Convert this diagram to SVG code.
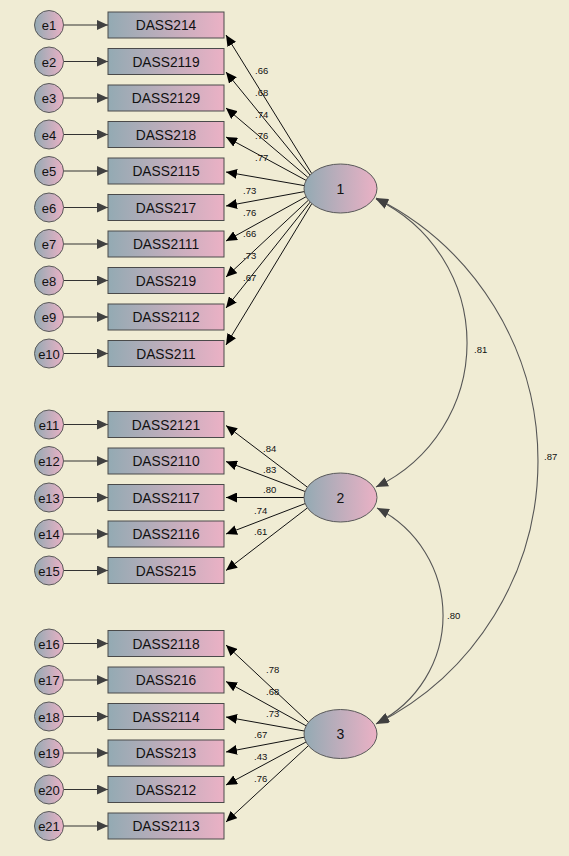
<svg xmlns="http://www.w3.org/2000/svg" width="569" height="856" viewBox="0 0 569 856">
<defs>
<linearGradient id="gr" x1="0" y1="0" x2="1" y2="0">
<stop offset="0" stop-color="#93aab3"/>
<stop offset="1" stop-color="#ebb1c5"/>
</linearGradient>
<marker id="ah" markerWidth="11" markerHeight="10" refX="11" refY="5" orient="auto" markerUnits="userSpaceOnUse"><path d="M0,0 L11,5 L0,10 z" fill="#000"/></marker>
<marker id="ahg" markerWidth="11" markerHeight="10" refX="11" refY="5" orient="auto" markerUnits="userSpaceOnUse"><path d="M0,0 L11,5 L0,10 z" fill="#404040"/></marker>
<marker id="ahc" markerWidth="12" markerHeight="10" refX="12" refY="5" orient="auto-start-reverse" markerUnits="userSpaceOnUse"><path d="M0,0 L12,5 L0,10 z" fill="#404040"/></marker>
</defs>
<style>
.bg{fill:#f0ecd4}
.obs rect{fill:url(#gr);stroke:#4a4a4a;stroke-width:1}
.err circle{fill:url(#gr);stroke:#5a5a5a;stroke-width:1}
.lat ellipse{fill:url(#gr);stroke:#5a5a5a;stroke-width:1}
text{font-family:"Liberation Sans",Arial,sans-serif;fill:#111}
.nt{font-size:13.8px;text-anchor:middle}
.et{font-size:13px;text-anchor:middle}
.lt{font-size:14px;text-anchor:middle}
.lab{font-size:9.5px}
.ea{stroke:#333;stroke-width:1;fill:none;marker-end:url(#ahg)}
.la{stroke:#111;stroke-width:1;fill:none;marker-end:url(#ah)}
.cv{stroke:#555;stroke-width:1.1;fill:none;marker-start:url(#ahc);marker-end:url(#ahc)}
</style>
<rect class="bg" x="0" y="0" width="569" height="856"/>

<g id="connectors">
<!-- error arrows -->
<line class="ea" x1="63.5" y1="25" x2="108" y2="25"/>
<line class="ea" x1="63.5" y1="61.5" x2="108" y2="61.5"/>
<line class="ea" x1="63.5" y1="98" x2="108" y2="98"/>
<line class="ea" x1="63.5" y1="134.5" x2="108" y2="134.5"/>
<line class="ea" x1="63.5" y1="171" x2="108" y2="171"/>
<line class="ea" x1="63.5" y1="207.5" x2="108" y2="207.5"/>
<line class="ea" x1="63.5" y1="244" x2="108" y2="244"/>
<line class="ea" x1="63.5" y1="280.5" x2="108" y2="280.5"/>
<line class="ea" x1="63.5" y1="317" x2="108" y2="317"/>
<line class="ea" x1="63.5" y1="353.5" x2="108" y2="353.5"/>
<line class="ea" x1="63.5" y1="424.5" x2="108" y2="424.5"/>
<line class="ea" x1="63.5" y1="461" x2="108" y2="461"/>
<line class="ea" x1="63.5" y1="497.5" x2="108" y2="497.5"/>
<line class="ea" x1="63.5" y1="534" x2="108" y2="534"/>
<line class="ea" x1="63.5" y1="570.5" x2="108" y2="570.5"/>
<line class="ea" x1="63.5" y1="643.5" x2="108" y2="643.5"/>
<line class="ea" x1="63.5" y1="680" x2="108" y2="680"/>
<line class="ea" x1="63.5" y1="716.5" x2="108" y2="716.5"/>
<line class="ea" x1="63.5" y1="753" x2="108" y2="753"/>
<line class="ea" x1="63.5" y1="789.5" x2="108" y2="789.5"/>
<line class="ea" x1="63.5" y1="826" x2="108" y2="826"/>
<!-- factor 1 loadings -->
<line class="la" x1="311.7" y1="173.5" x2="226" y2="35"/>
<line class="la" x1="310.0" y1="175.0" x2="226" y2="72"/>
<line class="la" x1="307.9" y1="177.4" x2="226" y2="108"/>
<line class="la" x1="306.1" y1="180.4" x2="226" y2="137"/>
<line class="la" x1="304.3" y1="185.6" x2="226" y2="172"/>
<line class="la" x1="304.3" y1="191.6" x2="226" y2="206"/>
<line class="la" x1="306.1" y1="196.7" x2="226" y2="241"/>
<line class="la" x1="308.4" y1="200.2" x2="226" y2="277"/>
<line class="la" x1="310.2" y1="202.1" x2="226" y2="308"/>
<line class="la" x1="311.8" y1="203.6" x2="226" y2="345"/>
<!-- factor 2 loadings -->
<line class="la" x1="307.4" y1="487.2" x2="226" y2="425.5"/>
<line class="la" x1="305.1" y1="491.5" x2="226" y2="461.5"/>
<line class="la" x1="304.0" y1="497.5" x2="226" y2="497.5"/>
<line class="la" x1="305.1" y1="503.6" x2="226" y2="534"/>
<line class="la" x1="307.4" y1="507.9" x2="226" y2="570.5"/>
<!-- factor 3 loadings -->
<line class="la" x1="308.5" y1="722.3" x2="226" y2="645"/>
<line class="la" x1="306.1" y1="725.8" x2="226" y2="681.5"/>
<line class="la" x1="304.3" y1="731.0" x2="226" y2="717"/>
<line class="la" x1="304.3" y1="737.2" x2="226" y2="752"/>
<line class="la" x1="306.0" y1="742.0" x2="226" y2="785"/>
<line class="la" x1="308.4" y1="745.7" x2="226" y2="822"/>
<!-- covariances -->
<path class="cv" d="M376,199 A159.4,159.4 0 0 1 376,487"/>
<path class="cv" d="M377,508 A120.5,120.5 0 0 1 377,723"/>
<path class="cv" d="M376,198 A294.5,294.5 0 0 1 376,724"/>
<!-- labels -->
<g class="lab">
<text x="255" y="74">.66</text>
<text x="255" y="96">.68</text>
<text x="255" y="118">.74</text>
<text x="255" y="139">.76</text>
<text x="255" y="161">.77</text>
<text x="243" y="194">.73</text>
<text x="243" y="216">.76</text>
<text x="243" y="237">.66</text>
<text x="243" y="259">.73</text>
<text x="243" y="281">.67</text>
<text x="263" y="452">.84</text>
<text x="263" y="473">.83</text>
<text x="263" y="493">.80</text>
<text x="254" y="514">.74</text>
<text x="254" y="535">.61</text>
<text x="266" y="673">.78</text>
<text x="266" y="695">.68</text>
<text x="266" y="717">.73</text>
<text x="254" y="738">.67</text>
<text x="254" y="760">.43</text>
<text x="254" y="782">.76</text>
<text x="474" y="353">.81</text>
<text x="544" y="460">.87</text>
<text x="447" y="619">.80</text>
</g>
</g>

<g id="e1" class="err"><circle cx="49" cy="25" r="14.5"/><text class="et" x="49" y="30">e1</text></g>
<g id="e2" class="err"><circle cx="49" cy="61.5" r="14.5"/><text class="et" x="49" y="66.5">e2</text></g>
<g id="e3" class="err"><circle cx="49" cy="98" r="14.5"/><text class="et" x="49" y="103">e3</text></g>
<g id="e4" class="err"><circle cx="49" cy="134.5" r="14.5"/><text class="et" x="49" y="139.5">e4</text></g>
<g id="e5" class="err"><circle cx="49" cy="171" r="14.5"/><text class="et" x="49" y="176">e5</text></g>
<g id="e6" class="err"><circle cx="49" cy="207.5" r="14.5"/><text class="et" x="49" y="212.5">e6</text></g>
<g id="e7" class="err"><circle cx="49" cy="244" r="14.5"/><text class="et" x="49" y="249">e7</text></g>
<g id="e8" class="err"><circle cx="49" cy="280.5" r="14.5"/><text class="et" x="49" y="285.5">e8</text></g>
<g id="e9" class="err"><circle cx="49" cy="317" r="14.5"/><text class="et" x="49" y="322">e9</text></g>
<g id="e10" class="err"><circle cx="49" cy="353.5" r="14.5"/><text class="et" x="49" y="358.5">e10</text></g>
<g id="e11" class="err"><circle cx="49" cy="424.5" r="14.5"/><text class="et" x="49" y="429.5">e11</text></g>
<g id="e12" class="err"><circle cx="49" cy="461" r="14.5"/><text class="et" x="49" y="466">e12</text></g>
<g id="e13" class="err"><circle cx="49" cy="497.5" r="14.5"/><text class="et" x="49" y="502.5">e13</text></g>
<g id="e14" class="err"><circle cx="49" cy="534" r="14.5"/><text class="et" x="49" y="539">e14</text></g>
<g id="e15" class="err"><circle cx="49" cy="570.5" r="14.5"/><text class="et" x="49" y="575.5">e15</text></g>
<g id="e16" class="err"><circle cx="49" cy="643.5" r="14.5"/><text class="et" x="49" y="648.5">e16</text></g>
<g id="e17" class="err"><circle cx="49" cy="680" r="14.5"/><text class="et" x="49" y="685">e17</text></g>
<g id="e18" class="err"><circle cx="49" cy="716.5" r="14.5"/><text class="et" x="49" y="721.5">e18</text></g>
<g id="e19" class="err"><circle cx="49" cy="753" r="14.5"/><text class="et" x="49" y="758">e19</text></g>
<g id="e20" class="err"><circle cx="49" cy="789.5" r="14.5"/><text class="et" x="49" y="794.5">e20</text></g>
<g id="e21" class="err"><circle cx="49" cy="826" r="14.5"/><text class="et" x="49" y="831">e21</text></g>

<g id="DASS214" class="obs"><rect x="108" y="12" width="116" height="26"/><text class="nt" x="166" y="30">DASS214</text></g>
<g id="DASS2119" class="obs"><rect x="108" y="48.5" width="116" height="26"/><text class="nt" x="166" y="66.5">DASS2119</text></g>
<g id="DASS2129" class="obs"><rect x="108" y="85" width="116" height="26"/><text class="nt" x="166" y="103">DASS2129</text></g>
<g id="DASS218" class="obs"><rect x="108" y="121.5" width="116" height="26"/><text class="nt" x="166" y="139.5">DASS218</text></g>
<g id="DASS2115" class="obs"><rect x="108" y="158" width="116" height="26"/><text class="nt" x="166" y="176">DASS2115</text></g>
<g id="DASS217" class="obs"><rect x="108" y="194.5" width="116" height="26"/><text class="nt" x="166" y="212.5">DASS217</text></g>
<g id="DASS2111" class="obs"><rect x="108" y="231" width="116" height="26"/><text class="nt" x="166" y="249">DASS2111</text></g>
<g id="DASS219" class="obs"><rect x="108" y="267.5" width="116" height="26"/><text class="nt" x="166" y="285.5">DASS219</text></g>
<g id="DASS2112" class="obs"><rect x="108" y="304" width="116" height="26"/><text class="nt" x="166" y="322">DASS2112</text></g>
<g id="DASS211" class="obs"><rect x="108" y="340.5" width="116" height="26"/><text class="nt" x="166" y="358.5">DASS211</text></g>
<g id="DASS2121" class="obs"><rect x="108" y="411.5" width="116" height="26"/><text class="nt" x="166" y="429.5">DASS2121</text></g>
<g id="DASS2110" class="obs"><rect x="108" y="448" width="116" height="26"/><text class="nt" x="166" y="466">DASS2110</text></g>
<g id="DASS2117" class="obs"><rect x="108" y="484.5" width="116" height="26"/><text class="nt" x="166" y="502.5">DASS2117</text></g>
<g id="DASS2116" class="obs"><rect x="108" y="521" width="116" height="26"/><text class="nt" x="166" y="539">DASS2116</text></g>
<g id="DASS215" class="obs"><rect x="108" y="557.5" width="116" height="26"/><text class="nt" x="166" y="575.5">DASS215</text></g>
<g id="DASS2118" class="obs"><rect x="108" y="630.5" width="116" height="26"/><text class="nt" x="166" y="648.5">DASS2118</text></g>
<g id="DASS216" class="obs"><rect x="108" y="667" width="116" height="26"/><text class="nt" x="166" y="685">DASS216</text></g>
<g id="DASS2114" class="obs"><rect x="108" y="703.5" width="116" height="26"/><text class="nt" x="166" y="721.5">DASS2114</text></g>
<g id="DASS213" class="obs"><rect x="108" y="740" width="116" height="26"/><text class="nt" x="166" y="758">DASS213</text></g>
<g id="DASS212" class="obs"><rect x="108" y="776.5" width="116" height="26"/><text class="nt" x="166" y="794.5">DASS212</text></g>
<g id="DASS2113" class="obs"><rect x="108" y="813" width="116" height="26"/><text class="nt" x="166" y="831">DASS2113</text></g>

<g id="F1" class="lat"><ellipse cx="340.5" cy="188.5" rx="36.5" ry="24.5"/><text class="lt" x="340.5" y="193.5">1</text></g>
<g id="F2" class="lat"><ellipse cx="340.5" cy="497.5" rx="36.5" ry="24.5"/><text class="lt" x="340.5" y="502.5">2</text></g>
<g id="F3" class="lat"><ellipse cx="340.5" cy="734" rx="36.5" ry="24.5"/><text class="lt" x="340.5" y="739">3</text></g>
</svg>
